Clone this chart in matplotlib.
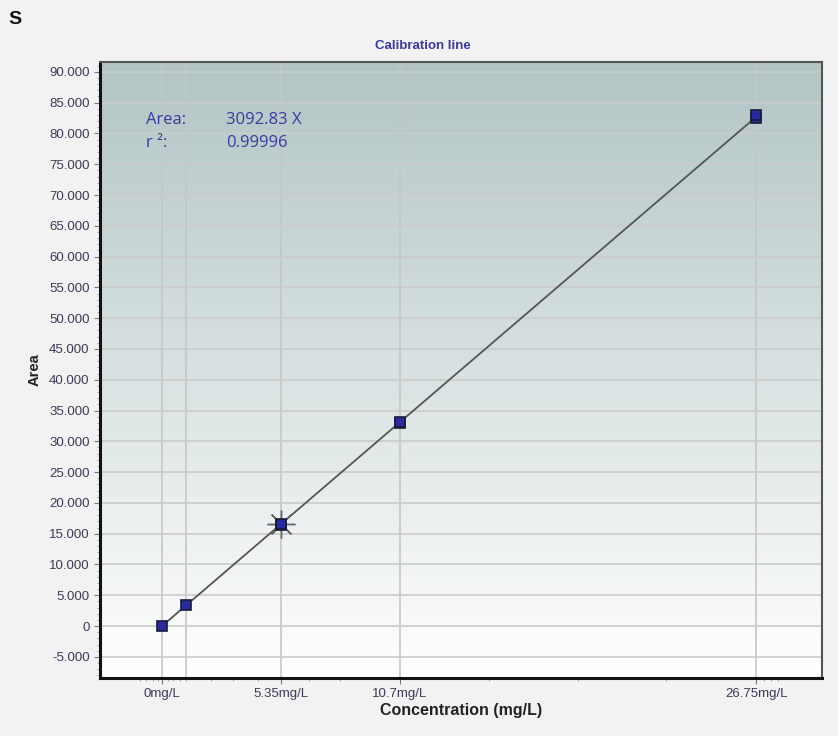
import numpy as np
import matplotlib
matplotlib.use("Agg")
import matplotlib.pyplot as plt
from matplotlib.ticker import FixedLocator, FuncFormatter

# Data
conc = [0.0, 1.07, 5.35, 5.35, 10.7, 10.7, 26.75, 26.75]
area = [0, 3350, 16400, 16650, 32900, 33100, 82550, 83050]
slope = 3092.83
r2 = 0.99996
xtick_vals = [0.0, 5.35, 10.7, 26.75]
xtick_labels = ["0mg/L", "5.35mg/L", "10.7mg/L", "26.75mg/L"]
xgrid_vals = [0.0, 1.07, 5.35, 10.7, 26.75]
ytick_vals = list(range(-5000, 90001, 5000))

plt.rcParams['font.family'] = ['Liberation Sans', 'DejaVu Sans']

fig = plt.figure(figsize=(8.38, 7.36), dpi=100)
fig.patch.set_facecolor('#f2f2f2')
ax = fig.add_axes([100/838, 1-678/736, 722/838, 616/736])

xmin, xmax = -2.79, 29.7
ymin, ymax = -8440, 91600
ax.set_xlim(xmin, xmax)
ax.set_ylim(ymin, ymax)

# gradient background
grad = np.linspace(0, 1, 256).reshape(-1, 1)
top = np.array([0.70, 0.77, 0.77])
bot = np.array([1.0, 1.0, 1.0])
img = top[None, None, :] * (1 - grad[:, :, None]) + bot[None, None, :] * grad[:, :, None]
ax.imshow(img, extent=[0, 1, 0, 1], transform=ax.transAxes, aspect='auto', zorder=0)

# grid
for gx in xgrid_vals:
    ax.axvline(gx, color='#c6c6c6', lw=1.2, zorder=1)
for gy in ytick_vals:
    ax.axhline(gy, color='#cbcbcb', lw=1.2, zorder=1)

# fit line
xs = np.array([0.0, 26.75])
ax.plot(xs, slope * xs, color='#555555', lw=1.3, zorder=3)

# star marker at 5.35
ax.plot([5.35], [16500], marker=(8, 2, 0), markersize=20, color='#666666', mew=1.0, zorder=3)

# points
ax.plot(conc, area, ls='none', marker='s', markersize=7.5, markerfacecolor='#2a2aa0',
        markeredgecolor='#1a1a3a', mew=1.2, zorder=4)

# ticks
ax.xaxis.set_major_locator(FixedLocator(xtick_vals))
ax.set_xticklabels(xtick_labels)
minor_x = [-1.0, -0.7, -0.4, -0.2, 0.25, 0.5, 0.8, 1.07, 2.2, 3.2, 4.3, 6.6, 8.0, 14.7, 18.7, 22.7, 27.1, 27.4, 27.7]
ax.xaxis.set_minor_locator(FixedLocator(minor_x))
ax.yaxis.set_major_locator(FixedLocator(ytick_vals))
ax.yaxis.set_major_formatter(FuncFormatter(lambda v, p: "0" if v == 0 else f"{int(v):,}".replace(",", ".")))
ax.yaxis.set_minor_locator(FixedLocator(list(range(-8000, 91001, 1000))))
ax.tick_params(axis='both', which='major', length=4, color='#777777', labelsize=9.5, labelcolor='#3a3a55')
ax.tick_params(axis='both', which='minor', length=2, color='#999999')

for s in ['left', 'bottom']:
    ax.spines[s].set_color('#111111')
    ax.spines[s].set_linewidth(2.2)
for s in ['top', 'right']:
    ax.spines[s].set_color('#555555')
    ax.spines[s].set_linewidth(1.5)

ax.set_xlabel("Concentration (mg/L)", fontsize=11.5, fontweight='bold', color='#222222', labelpad=2)
ax.set_ylabel("Area", fontsize=10.5, fontweight='bold', color='#222222', labelpad=5)

fig.text(423/838, 1-46/736, "Calibration line", fontsize=9.5, fontweight='bold', color='#3838a8',
         ha='center', va='center')

# equation text
tc = '#3a3aa0'
fam = ['Open Sans', 'DejaVu Sans']
fig.text(146/838, 1-120/736, "Area:", fontsize=12, color=tc, va='center', family=fam)
fig.text(226/838, 1-120/736, f"{slope:.2f} X", fontsize=12, color=tc, va='center', family=fam)
fig.text(146/838, 1-143/736, "r ²:", fontsize=12, color=tc, va='center', family=fam)
fig.text(226/838, 1-143/736, f"{r2:.5f}", fontsize=12, color=tc, va='center', family=fam)

fig.text(8/838, 1-20/736, "S", fontsize=14, fontweight='bold', color='#111111', va='center')

fig.savefig("out.png", dpi=100, facecolor=fig.get_facecolor())
